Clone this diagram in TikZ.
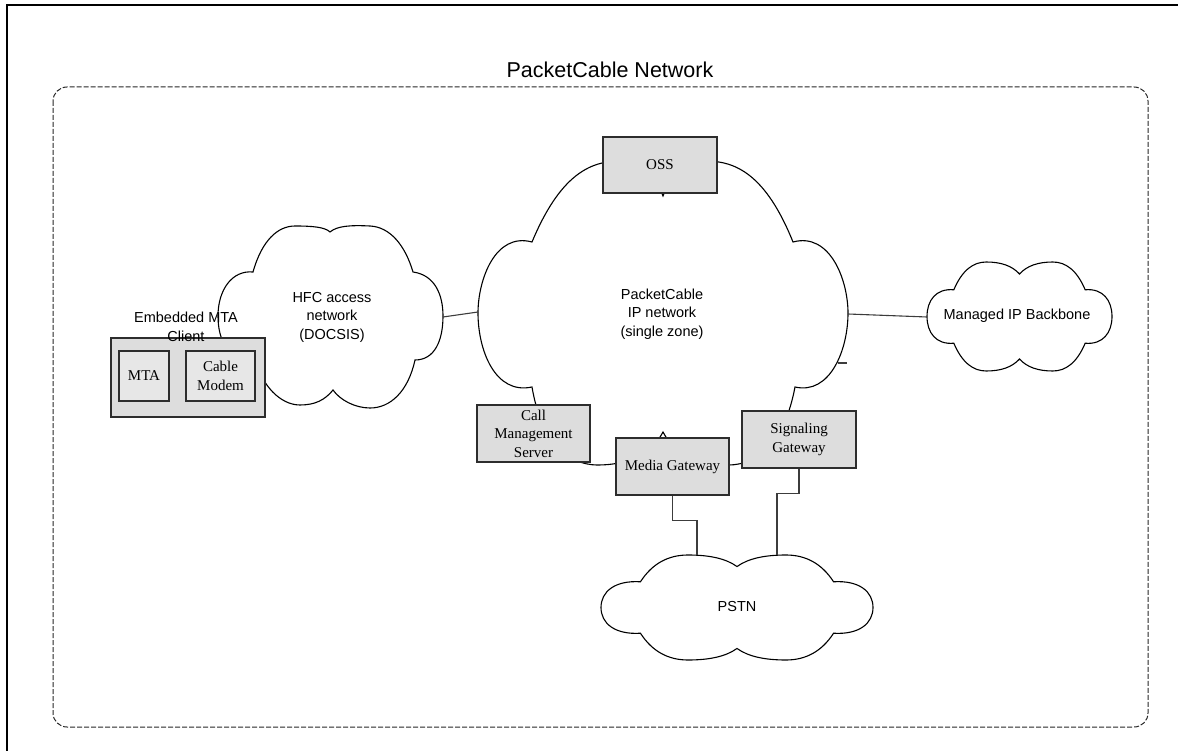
\documentclass[tikz,border=0pt]{standalone}
\usepackage{fontspec}
\setmainfont{Liberation Serif}
\setsansfont{Liberation Sans}

\definecolor{boxgray}{RGB}{221,221,221}
\definecolor{innergray}{RGB}{231,231,231}
\definecolor{edgegray}{RGB}{45,45,45}
\definecolor{wiregray}{RGB}{60,60,60}

\newcommand{\serifbox}{\rmfamily\fontsize{15}{18.5}\selectfont}
\newcommand{\sanslbl}{\sffamily\fontsize{14.5}{18.5}\selectfont}
\newcommand{\titlefont}{\sffamily\fontsize{21.5}{26}\selectfont}

\tikzset{
  cloudline/.style={draw=black, line width=1.1pt, fill=white},
  graybox/.style={draw=edgegray, line width=1.1pt, fill=boxgray, inner sep=0pt,
                  align=center, font=\serifbox},
  innerbox/.style={graybox, fill=innergray},
  sanslabel/.style={font=\sanslbl, align=center, inner sep=0pt},
  link/.style={draw=wiregray, line width=1.1pt},
  zone/.style={draw=black!85, line width=1pt, dash pattern=on 5pt off 2pt,
               rounded corners=14pt},
  frameline/.style={draw=black, line width=1.6pt},
  % cloud with two bumps on top and bottom, in a [-1,1] box (y downwards)
  flatcloud/.pic={
    \path[cloudline] (-0.71,-0.49)
      .. controls (-0.62,-0.85) and (-0.5,-1) .. (-0.36,-1)
      .. controls (-0.2,-1) and (-0.08,-0.93) .. (0,-0.78)
      .. controls (0.08,-0.93) and (0.2,-1) .. (0.36,-1)
      .. controls (0.5,-1) and (0.62,-0.85) .. (0.71,-0.49)
      .. controls (0.9,-0.52) and (1,-0.3) .. (1,0)
      .. controls (1,0.3) and (0.9,0.52) .. (0.71,0.49)
      .. controls (0.62,0.85) and (0.5,1) .. (0.36,1)
      .. controls (0.2,1) and (0.08,0.93) .. (0,0.78)
      .. controls (-0.08,0.93) and (-0.2,1) .. (-0.36,1)
      .. controls (-0.5,1) and (-0.62,0.85) .. (-0.71,0.49)
      .. controls (-0.9,0.52) and (-1,0.3) .. (-1,0)
      .. controls (-1,-0.3) and (-0.9,-0.52) .. (-0.71,-0.49) -- cycle;
  }
}

\begin{document}
\begin{tikzpicture}[x=1pt, y=-1pt]
  \useasboundingbox (0,0) rectangle (1178,751);

  % page frame
  \draw[frameline] (7,751) -- (7,5) -- (1178,5);

  % network boundary
  \draw[zone] (53,87) rectangle (1148,727);
  \node[font=\titlefont, inner sep=0pt] (title) at (610,70) {PacketCable Network};

  % HFC access cloud
  \path[cloudline] (253,272)
    .. controls (262,240) and (278,226) .. (295,226)
    .. controls (312,226) and (325,227) .. (330,232)
    .. controls (337,226) and (350,225) .. (370,226)
    .. controls (390,227) and (405,245) .. (413,272)
    .. controls (435,275) and (443,295) .. (443,316)
    .. controls (443,340) and (435,360) .. (415,360)
    .. controls (408,392) and (390,408) .. (370,408)
    .. controls (355,408) and (340,400) .. (333,390)
    .. controls (325,400) and (315,405) .. (300,405)
    .. controls (280,405) and (262,385) .. (255,360)
    .. controls (228,362) and (218,340) .. (218,316)
    .. controls (218,290) and (232,270) .. (253,272) -- cycle;

  % PacketCable IP network cloud
  \path[cloudline] (532,242)
    .. controls (560,175) and (590,161) .. (620,161)
    .. controls (640,161) and (655,175) .. (663,196)
    .. controls (671,175) and (686,161) .. (706,161)
    .. controls (736,161) and (766,175) .. (793,242)
    .. controls (830,232) and (848,280) .. (848,313)
    .. controls (848,350) and (830,395) .. (795,387)
    .. controls (785,440) and (760,465) .. (728,465)
    .. controls (700,465) and (675,455) .. (663,432)
    .. controls (651,455) and (626,465) .. (598,465)
    .. controls (566,465) and (541,440) .. (532,387)
    .. controls (495,395) and (478,350) .. (478,313)
    .. controls (478,280) and (495,232) .. (532,242) -- cycle;

  % Managed IP backbone and PSTN clouds
  \pic[shift={(1019.5,316.5)}, xscale=92.5, yscale=54.5] {flatcloud};
  \pic[shift={(737,607.5)}, xscale=136, yscale=52.5] {flatcloud};

  % attachment points on the clouds
  \coordinate (hfcE) at (443,317);
  \coordinate (ipW) at (478,312);
  \coordinate (ipE) at (848,314);
  \coordinate (mipW) at (927,317);
  \coordinate (ipTick) at (838,363);
  \coordinate (pstnA) at (697,555);
  \coordinate (pstnB) at (777,555);

  % cloud labels
  \node[sanslabel] (hfclbl) at (332,317) {HFC access\\network\\(DOCSIS)};
  \node[sanslabel] (iplbl) at (662,314) {PacketCable\\IP network\\(single zone)};
  \node[sanslabel] (miplbl) at (1017,316) {Managed IP Backbone};
  \node[sanslabel] (pstnlbl) at (737,607) {PSTN};

  % network elements
  \node[graybox, minimum width=114, minimum height=56] (oss) at (660,165) {OSS};
  \node[graybox, minimum width=113, minimum height=57] (cms) at (533.5,433.5)
       {Call\\Management\\Server};
  \node[graybox, minimum width=113, minimum height=57] (mg) at (672.5,466.5)
       {Media Gateway};
  \node[graybox, minimum width=114, minimum height=57] (sg) at (799,439.5)
       {Signaling\\Gateway};

  % embedded MTA client
  \node[graybox, minimum width=154, minimum height=79] (emta) at (188,377.5) {};
  \node[innerbox, minimum width=50, minimum height=50] (mta) at (144,376) {MTA};
  \node[innerbox, minimum width=69, minimum height=50] (cm) at (220.5,376)
       {Cable\\Modem};
  \node[sanslabel] (emtalbl) at (186,327) {Embedded MTA\\Client};

  % links
  \draw[link] (hfcE) -- (ipW);
  \draw[link] (ipE) -- (mipW);
  \draw[link] (ipTick) -- ++(9,0);
  \draw[link] (mg.south) -- ++(0,25) -| (pstnA);
  \draw[link] (sg.south) -- ++(0,25) -| (pstnB);
\end{tikzpicture}
\end{document}
